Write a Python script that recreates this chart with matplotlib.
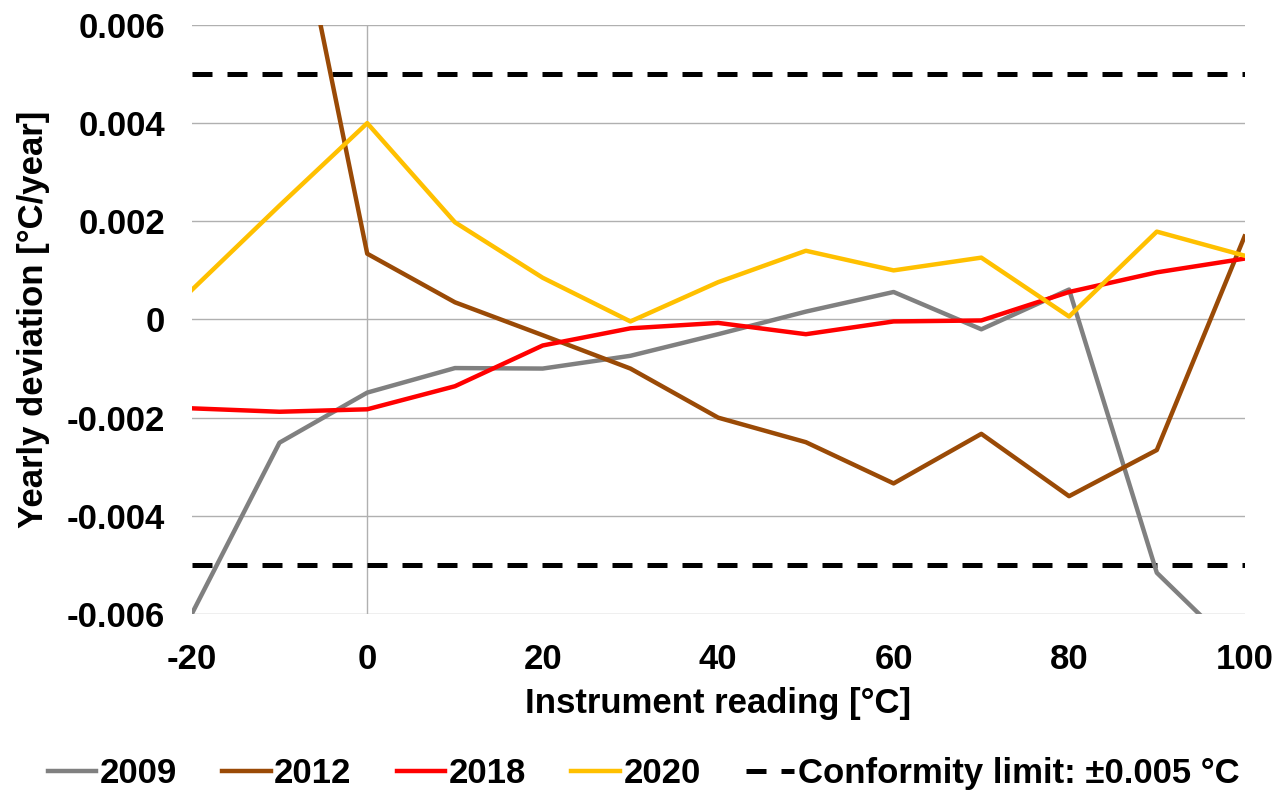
import numpy as np
import matplotlib
matplotlib.use("Agg")
import matplotlib.pyplot as plt

plt.rcParams["font.family"] = ["Liberation Sans", "DejaVu Sans"]
plt.rcParams["font.weight"] = "bold"
plt.rcParams["axes.unicode_minus"] = False

readings = [-20, -10, 0, 10, 20, 30, 40, 50, 60, 70, 80, 90, 100]

dev_2009 = [-0.0060, -0.00251, -0.00149, -0.00099, -0.00100, -0.00074, -0.00030,
            0.00016, 0.00056, -0.00020, 0.00061, -0.00516, -0.0069]
dev_2012 = [0.0150, 0.0101, 0.00134, 0.00035, -0.00032, -0.00100, -0.00200,
            -0.00250, -0.00334, -0.00233, -0.00360, -0.00266, 0.00169]
dev_2018 = [-0.00181, -0.00188, -0.00183, -0.00136, -0.00053, -0.00018, -0.00007,
            -0.00030, -0.00004, -0.00002, 0.00056, 0.00096, 0.00124]
dev_2020 = [0.00060, 0.00232, 0.00400, 0.00198, 0.00085, -0.00004, 0.00076,
            0.00140, 0.00100, 0.00126, 0.00006, 0.00179, 0.00130]

series = [
    ("2009", dev_2009, "#808080"),
    ("2012", dev_2012, "#9A4A06"),
    ("2018", dev_2018, "#FF0000"),
    ("2020", dev_2020, "#FFC000"),
]

limit = 0.005

fig = plt.figure(figsize=(12.87, 7.90), dpi=100)
ax = fig.add_axes([0.149, 0.2228, 0.818, 0.7456])

for y in np.arange(-0.006, 0.0061, 0.002):
    ax.axhline(y, color="#B0B0B0", linewidth=1.0, zorder=1)
ax.axvline(0, color="#B0B0B0", linewidth=1.0, zorder=1)

for label, vals, color in series:
    ax.plot(readings, vals, color=color, linewidth=3.2, label=label, zorder=3)

ax.plot([-20, 100], [limit, limit], color="black", linewidth=3.6,
        dashes=(4.0, 3.0), label="Conformity limit: \u00b10.005 \u00b0C", zorder=2)
ax.plot([-20, 100], [-limit, -limit], color="black", linewidth=3.6,
        dashes=(4.0, 3.0), zorder=2)

ax.set_xlim(-20, 100)
ax.set_ylim(-0.006, 0.006)
ax.set_xticks(np.arange(-20, 101, 20))
ax.set_yticks([-0.006, -0.004, -0.002, 0, 0.002, 0.004, 0.006])
ax.set_yticklabels(["-0.006", "-0.004", "-0.002", "0", "0.002", "0.004", "0.006"])
ax.tick_params(axis="both", length=0, labelsize=25)
ax.tick_params(axis="x", pad=21)
ax.tick_params(axis="y", pad=19)
for s in ax.spines.values():
    s.set_visible(False)

ax.set_xlabel("Instrument reading [\u00b0C]", fontsize=25, fontweight="bold", labelpad=8)
ax.set_ylabel("Yearly deviation [\u00b0C/year]", fontsize=25, fontweight="bold", labelpad=12)

fig.legend(loc="lower center", bbox_to_anchor=(0.5, -0.04), ncol=5, frameon=False,
           fontsize=25, handlelength=1.4, handletextpad=0.1, columnspacing=1.3)

fig.savefig("out.png", dpi=100)
